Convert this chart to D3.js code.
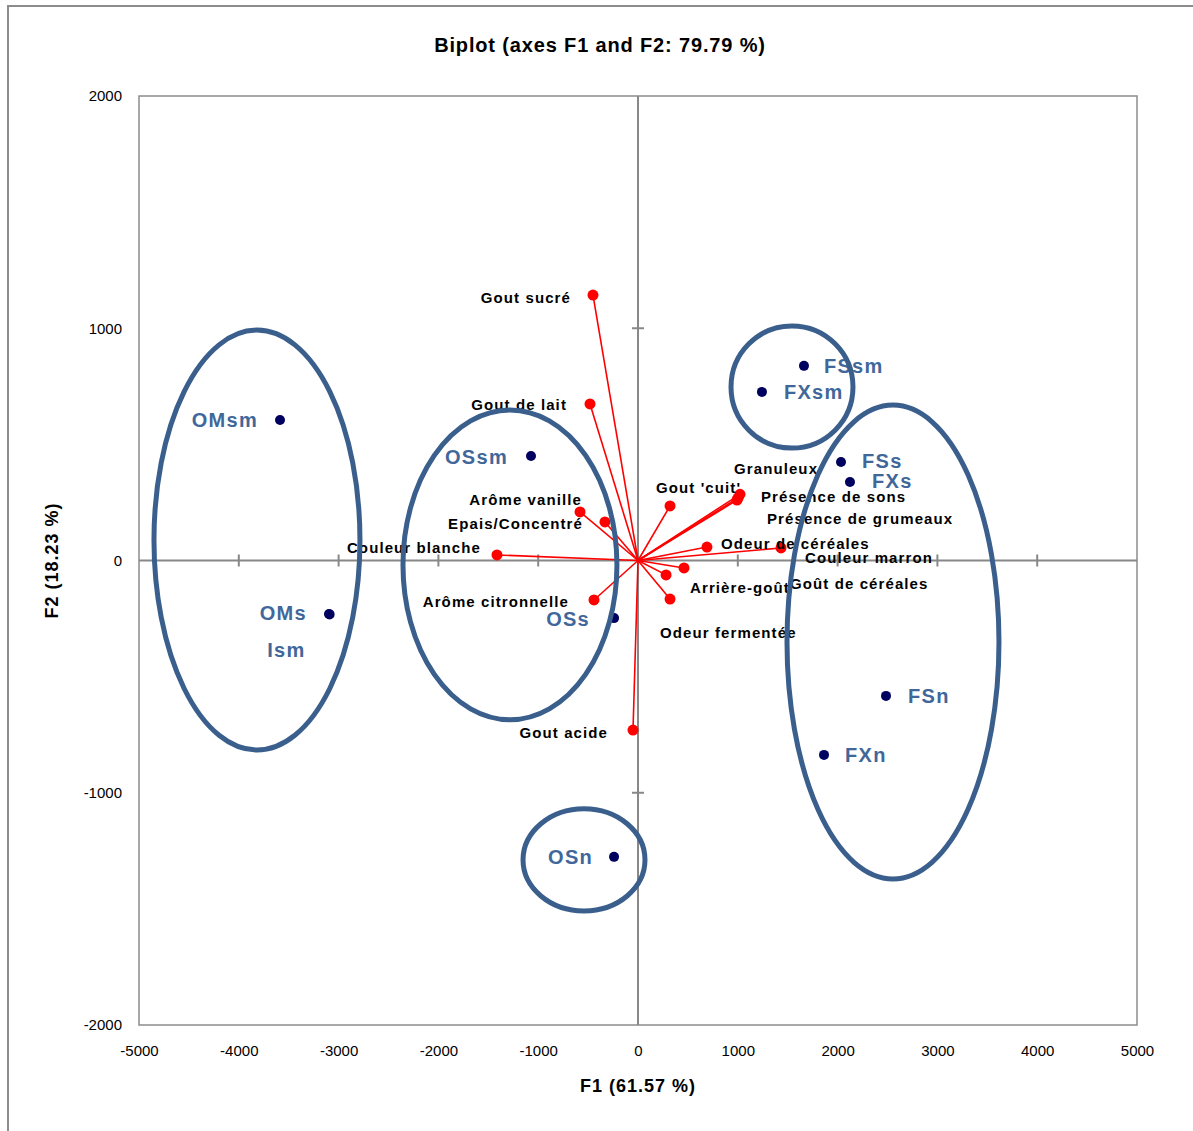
<!DOCTYPE html>
<html>
<head>
<meta charset="utf-8">
<script src="https://cdn.jsdelivr.net/npm/d3@7"></script>
<style>
  body { margin: 0; background: #fff; }
  text { font-family: "Liberation Sans", Arial, sans-serif; }
</style>
</head>
<body>
<svg id="chart" width="1193" height="1131"></svg>
<script>
// observations (F1, F2 scores)
const obsNames = ["OMsm", "OMs", "Ism", "OSsm", "OSs", "OSn", "FSsm", "FXsm", "FSs", "FXs", "FSn", "FXn"];
const obsF1 = [-3587, -3096, -3090, -1072, -240, -240, 1663, 1242, 2034, 2124, 2485, 1864];
const obsF2 = [605, -230, -232, 450, -248, -1276, 838, 726, 424, 338, -583, -837];

// variables (F1, F2 loadings, scaled)
const varNames = ["Gout sucré", "Gout de lait", "Arôme vanille", "Epais/Concentré", "Couleur blanche",
  "Arôme citronnelle", "Gout acide", "Gout 'cuit'", "Granuleux", "Présence de sons",
  "Présence de grumeaux", "Odeur de céréales", "Couleur marron", "Goût de céréales",
  "Arrière-goût", "Odeur fermentée"];
const varF1 = [-451, -481, -581, -331, -1413, -441, -50, 321, 1022, 1002, 992, 691, 1433, 461, 281, 321];
const varF2 = [1143, 674, 209, 166, 24, -170, -730, 235, 285, 269, 260, 58, 54, -32, -62, -166];

// group ellipses drawn on the chart (centre, radii in axis units)
const groupCx = [-3818, -1283, 1543, 2555, -541];
const groupCy = [88, -19, 747, -351, -1289];
const groupRx = [1032, 1072, 611, 1062, 611];
const groupRy = [904, 667, 263, 1020, 220];

const xTicks = [-5000, -4000, -3000, -2000, -1000, 0, 1000, 2000, 3000, 4000, 5000];
const yTicks = [-2000, -1000, 0, 1000, 2000];

// label placement (px offset from point, anchor)
const labelPos = {
  "Gout sucré": [-22, 2, "end"],
  "Gout de lait": [-23, 1, "end"],
  "Arôme vanille": [2, -12, "end"],
  "Epais/Concentré": [-22, 2, "end"],
  "Couleur blanche": [-16, -7, "end"],
  "Arôme citronnelle": [-25, 2, "end"],
  "Gout acide": [-25, 2, "end"],
  "Gout 'cuit'": [-14, -18, "start"],
  "Granuleux": [-6, -26, "start"],
  "Présence de sons": [23, -2, "start"],
  "Présence de grumeaux": [30, 18, "start"],
  "Odeur de céréales": [14, -4, "start"],
  "Couleur marron": [24, 10, "start"],
  "Goût de céréales": [106, 16, "start"],
  "Arrière-goût": [24, 13, "start"],
  "Odeur fermentée": [-10, 33, "start"],
  "OMsm": [-22, 0, "end"],
  "OMs": [-22, -1, "end"],
  "Ism": [-24, 36, "end"],
  "OSsm": [-23, 1, "end"],
  "OSs": [-24, 1, "end"],
  "OSn": [-21, 0, "end"],
  "FSsm": [20, 0, "start"],
  "FXsm": [22, 0, "start"],
  "FSs": [21, -1, "start"],
  "FXs": [22, -1, "start"],
  "FSn": [22, 0, "start"],
  "FXn": [21, 0, "start"]
};

const svg = d3.select("#chart");
const x = d3.scaleLinear().domain([-5000, 5000]).range([139, 1137]);
const y = d3.scaleLinear().domain([-2000, 2000]).range([1025, 96]);

// outer chart frame
svg.append("rect")
  .attr("x", 8).attr("y", 6).attr("width", 1200).attr("height", 1140)
  .attr("fill", "none").attr("stroke", "#8c8c8c").attr("stroke-width", 2);

// title
svg.append("text")
  .attr("x", 600).attr("y", 52)
  .attr("text-anchor", "middle")
  .style("font-size", "20px").style("font-weight", "bold").style("letter-spacing", "0.85px")
  .text("Biplot (axes F1 and  F2: 79.79 %)");

// plot box
svg.append("rect")
  .attr("x", x(-5000)).attr("y", y(2000))
  .attr("width", x(5000) - x(-5000)).attr("height", y(-2000) - y(2000))
  .attr("fill", "none").attr("stroke", "#8c8c8c").attr("stroke-width", 1.5);

// zero lines
svg.append("line")
  .attr("x1", x(-5000)).attr("x2", x(5000)).attr("y1", y(0)).attr("y2", y(0))
  .attr("stroke", "#888").attr("stroke-width", 2);
svg.append("line")
  .attr("x1", x(0)).attr("x2", x(0)).attr("y1", y(2000)).attr("y2", y(-2000))
  .attr("stroke", "#888").attr("stroke-width", 2);

// tick marks crossing the zero lines
svg.append("g").selectAll("line")
  .data(xTicks.filter(d => d !== 0 && Math.abs(d) !== 5000))
  .join("line")
  .attr("x1", d => x(d)).attr("x2", d => x(d))
  .attr("y1", y(0) - 6).attr("y2", y(0) + 6)
  .attr("stroke", "#888").attr("stroke-width", 2);
svg.append("g").selectAll("line")
  .data(yTicks.filter(d => d !== 0 && Math.abs(d) !== 2000))
  .join("line")
  .attr("y1", d => y(d)).attr("y2", d => y(d))
  .attr("x1", x(0) - 6).attr("x2", x(0) + 6)
  .attr("stroke", "#888").attr("stroke-width", 2);

// axis labels (plain numbers, hyphen minus)
const xAxis = svg.append("g")
  .attr("transform", "translate(0," + y(-2000) + ")")
  .call(d3.axisBottom(x).tickValues(xTicks).tickFormat(d => String(d)).tickSize(0).tickPadding(20));
const yAxis = svg.append("g")
  .attr("transform", "translate(" + x(-5000) + ",0)")
  .call(d3.axisLeft(y).tickValues(yTicks).tickFormat(d => String(d)).tickSize(0).tickPadding(17));
[xAxis, yAxis].forEach(function (a) {
  a.select(".domain").remove();
  a.selectAll("text").style("font-size", "15px").style("font-family", "Liberation Sans, Arial, sans-serif").attr("fill", "#000");
});

svg.append("text")
  .attr("x", 638).attr("y", 1092)
  .attr("text-anchor", "middle")
  .style("font-size", "18px").style("font-weight", "bold").style("letter-spacing", "1px")
  .text("F1 (61.57 %)");
svg.append("text")
  .attr("transform", "translate(58," + y(0) + ") rotate(-90)")
  .attr("text-anchor", "middle")
  .style("font-size", "18px").style("font-weight", "bold").style("letter-spacing", "1px")
  .text("F2 (18.23 %)");

// variable vectors
const vars = varNames.map((n, i) => ({ name: n, f1: varF1[i], f2: varF2[i] }));
const obs = obsNames.map((n, i) => ({ name: n, f1: obsF1[i], f2: obsF2[i] }));

svg.append("g").selectAll("line")
  .data(vars)
  .join("line")
  .attr("x1", x(0)).attr("y1", y(0))
  .attr("x2", d => x(d.f1)).attr("y2", d => y(d.f2))
  .attr("stroke", "#ff0000").attr("stroke-width", 1.6);
svg.append("g").selectAll("circle")
  .data(vars)
  .join("circle")
  .attr("cx", d => x(d.f1)).attr("cy", d => y(d.f2)).attr("r", 5.5)
  .attr("fill", "#ff0000");

svg.append("g").selectAll("text")
  .data(vars)
  .join("text")
  .attr("x", d => x(d.f1) + labelPos[d.name][0])
  .attr("y", d => y(d.f2) + labelPos[d.name][1])
  .attr("text-anchor", d => labelPos[d.name][2])
  .attr("dominant-baseline", "central")
  .style("font-size", "15px").style("font-weight", "bold").style("letter-spacing", "1.1px")
  .attr("fill", "#000")
  .text(d => d.name);

// observations
svg.append("g").selectAll("circle")
  .data(obs)
  .join("circle")
  .attr("cx", d => x(d.f1)).attr("cy", d => y(d.f2)).attr("r", 5)
  .attr("fill", "#00005e");
svg.append("g").selectAll("text")
  .data(obs)
  .join("text")
  .attr("x", d => x(d.f1) + labelPos[d.name][0])
  .attr("y", d => y(d.f2) + labelPos[d.name][1])
  .attr("text-anchor", d => labelPos[d.name][2])
  .attr("dominant-baseline", "central")
  .style("font-size", "20px").style("font-weight", "bold").style("letter-spacing", "1.3px")
  .attr("fill", "#41679a")
  .text(d => d.name);

// group ellipses on top
svg.append("g").selectAll("ellipse")
  .data(groupCx)
  .join("ellipse")
  .attr("cx", d => x(d))
  .attr("cy", (d, i) => y(groupCy[i]))
  .attr("rx", (d, i) => x(groupRx[i]) - x(0))
  .attr("ry", (d, i) => y(0) - y(groupRy[i]))
  .attr("fill", "none").attr("stroke", "#3a5f8d").attr("stroke-width", 5);
</script>
</body>
</html>
